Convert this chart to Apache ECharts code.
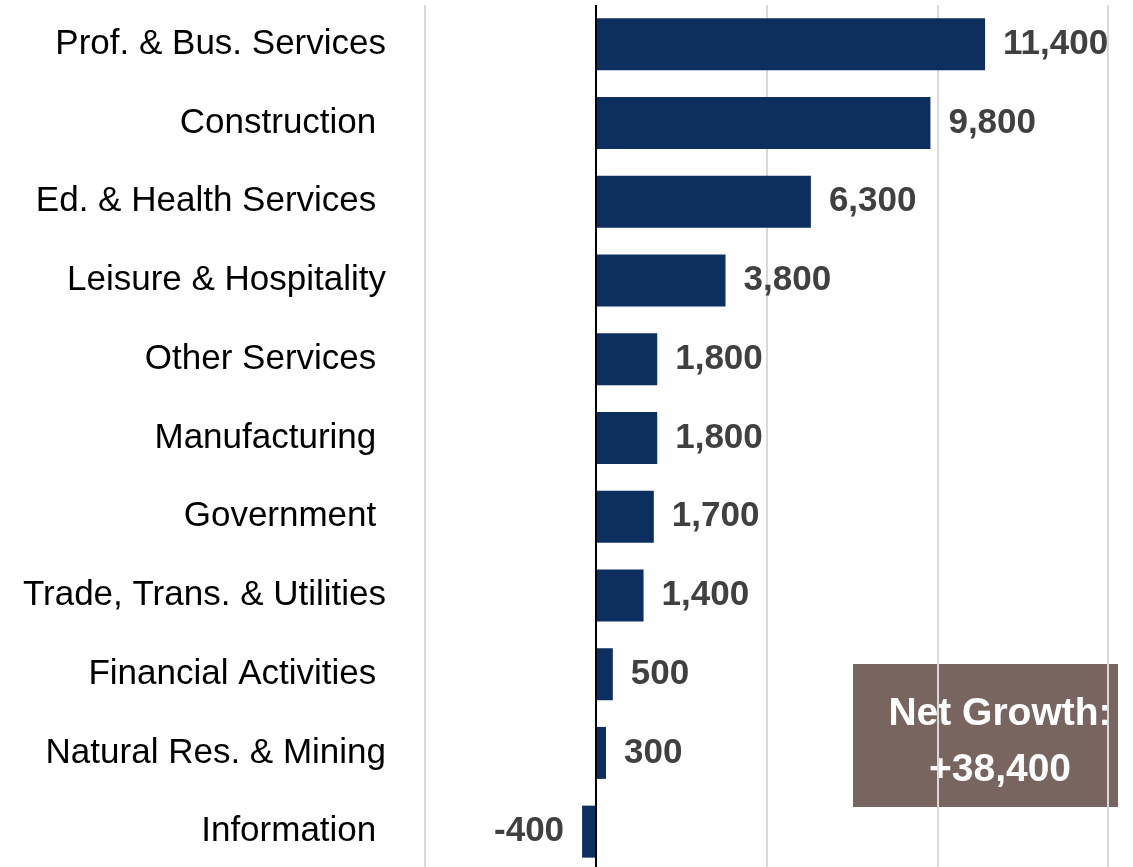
<!DOCTYPE html>
<html lang="en">
<head>
    <meta charset="utf-8"/>
    <title>Job growth by sector</title>
    <script src="https://cdn.jsdelivr.net/npm/echarts@6/dist/echarts.min.js"></script>
</head>
<body style="margin:0;background:#ffffff;overflow:hidden;">
<!-- the plot runs a few px past the bottom edge, as in the original -->
<div id="echarts" style="width:1133px;height:871px;"></div>
<script type="text/javascript">
    // sectors, top to bottom
    var sectors = ['Prof. & Bus. Services', 'Construction ', 'Ed. & Health Services ', 'Leisure & Hospitality',
        'Other Services ', 'Manufacturing ', 'Government ', 'Trade, Trans. & Utilities',
        'Financial Activities ', 'Natural Res. & Mining', 'Information '];
    var jobChange = [11400, 9800, 6300, 3800, 1800, 1800, 1700, 1400, 500, 300, -400];
    var netGrowth = '+38,400';

    var font = "'Liberation Sans Narrow', 'Arial Narrow', 'Liberation Sans', sans-serif";

    var myChart = echarts.init(document.getElementById('echarts'));
    var option = {
        animation: false,
        grid: {left: 425, right: 25, top: 5, bottom: 0, containLabel: false},
        xAxis: {
            type: 'value',
            min: -5000,
            max: 15000,
            interval: 5000,
            axisLabel: {show: false},
            axisTick: {show: false},
            axisLine: {show: false},
            splitLine: {lineStyle: {color: '#d9d9d9', width: 2}}
        },
        yAxis: {
            type: 'category',
            inverse: true,
            data: sectors,
            axisLine: {show: false, onZero: false},
            axisTick: {show: false},
            axisLabel: {
                margin: 39,
                fontFamily: font,
                fontSize: 35,
                color: '#000000',
                padding: [5, 0, 0, 0]
            }
        },
        series: [{
            type: 'bar',
            data: jobChange.map(function (v) {
                return {
                    value: v,
                    label: {position: v < 0 ? 'left' : 'right'}
                };
            }),
            barWidth: 52,
            itemStyle: {color: '#0d2f5f'},
            label: {
                show: true,
                distance: 18,
                fontFamily: font,
                fontSize: 35,
                fontWeight: 'bold',
                color: '#404040',
                padding: [5, 0, 0, 0],
                formatter: function (p) {
                    return p.value.toLocaleString('en-US');
                }
            },
            markLine: {
                silent: true,
                symbol: 'none',
                label: {show: false},
                lineStyle: {color: '#000000', width: 2, type: 'solid'},
                data: [{xAxis: 0}]
            }
        }],
        graphic: [{
            type: 'group',
            left: 853,
            top: 664,
            children: [{
                type: 'rect',
                shape: {x: 0, y: 0, width: 265, height: 143},
                style: {fill: '#786560'}
            }, {
                type: 'text',
                x: 147,
                y: 78,
                style: {
                    text: 'Net Growth:\n' + netGrowth,
                    fill: '#ffffff',
                    font: 'bold 39px ' + font,
                    align: 'center',
                    verticalAlign: 'middle',
                    lineHeight: 56
                }
            }]
        }]
    };
    myChart.setOption(option);
</script>
</body>
</html>
